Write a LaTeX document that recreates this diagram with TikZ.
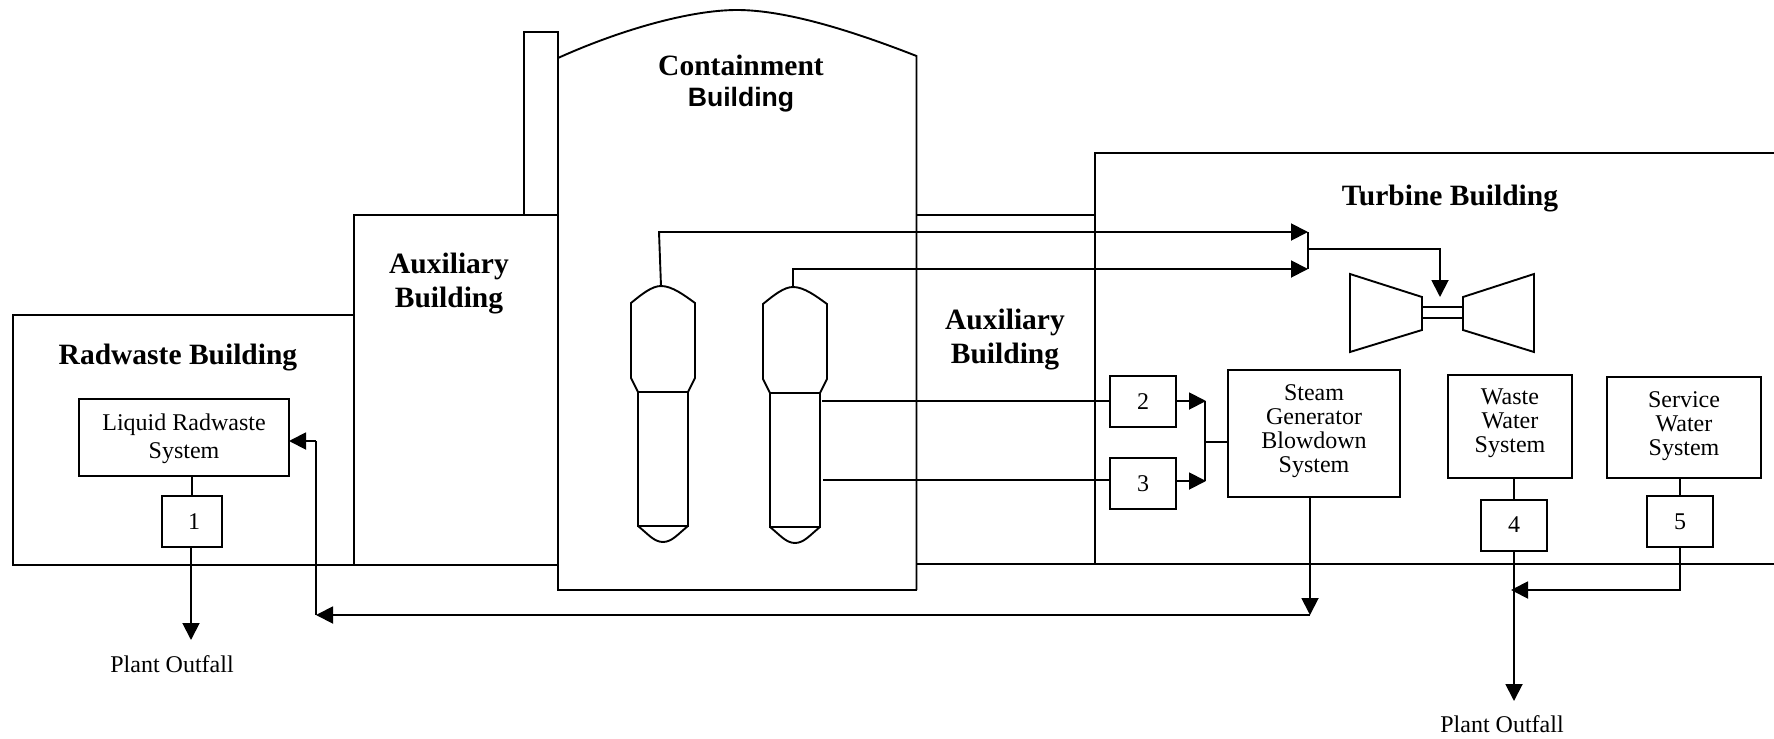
\documentclass[tikz,border=0pt]{standalone}
\usepackage{fontspec}
\setmainfont{Liberation Serif}
\newfontfamily\labelsans{Liberation Sans}
\usetikzlibrary{arrows.meta, positioning, calc}
\tikzset{
    wall/.style={line width=0.95pt, draw=black},
    pipe/.style={line width=0.95pt, draw=black},
    flow/.style={-{Triangle[length=8.5pt,width=8.5pt]}, line width=0.95pt, draw=black},
    sysbox/.style={
        rectangle, draw=black, line width=1pt, inner sep=0pt, outer sep=0pt,
        font=\fontsize{12}{12}\selectfont, align=center
    },
    numbox/.style={
        rectangle, draw=black, line width=1pt, inner sep=0pt, outer sep=0pt,
        minimum width=33pt, minimum height=25.5pt,
        font=\fontsize{12}{12}\selectfont
    },
    bldg/.style={font=\fontsize{14.75}{17}\selectfont\bfseries, align=center, inner sep=0pt},
    outfall/.style={font=\fontsize{12}{12}\selectfont, inner sep=0pt}
}

\begin{document}
\begin{tikzpicture}[x=0.5pt, y=-0.5pt]
    \useasboundingbox (0,0) rectangle (1774,739);

    % buildings
    \draw[wall] (354,315) -- (13,315) -- (13,565) -- (354,565);
    \draw[wall] (354,565) -- (354,215) -- (558,215) -- (558,565) -- cycle;
    \draw[wall] (524,215) -- (524,32) -- (558,32) -- (558,215);
    \draw[wall] (558,590) -- (558,58) .. controls (620,30) and (690,10) .. (737,10)
        .. controls (785,10) and (850,30) .. (916.5,56) -- (916.5,590);
    \draw[wall] (557,590) -- (916.5,590);
    \draw[wall] (916.5,215) -- (1095,215);
    \draw[wall] (916.5,564) -- (1774,564);
    \draw[wall] (1774,153) -- (1095,153) -- (1095,564);

    \node[bldg] (radlabel) at (178,358) {Radwaste Building};
    \node[bldg] (contlabel) at (741,65.5) {Containment};
    \node[font=\fontsize{13.3}{13.3}\selectfont\bfseries\labelsans, inner sep=0pt] (contlabelb) at (741,100) {Building};
    \node[bldg] (auxlabela) at (449,284) {Auxiliary\\Building};
    \node[bldg] (auxlabelb) at (1005,340) {Auxiliary\\Building};
    \node[bldg] (turblabel) at (1450,199) {Turbine Building};

    % steam generators
    \foreach \sgname/\sgx/\sgy in {sga/0/0, sgb/132/1} {
        \begin{scope}[shift={(\sgx,\sgy)}]
            \draw[wall] (638,392) -- (631,378) -- (631,303)
                .. controls (642,294) and (652,286) .. (661,286)
                .. controls (672,286) and (684,295) .. (695,303)
                -- (695,378) -- (688,392) -- cycle;
            \draw[wall] (638,392) -- (638,526) -- (688,526) -- (688,392);
            \draw[wall] (638,526) .. controls (648,534) and (654,542) .. (663,542)
                .. controls (672,542) and (678,534) .. (688,526);
            \coordinate (\sgname top) at (661,286);
        \end{scope}
    }

    % systems
    \node[sysbox, minimum width=105pt, minimum height=38.5pt] (liquid) at (184,437) {\rule{0pt}{10.5pt}Liquid Radwaste\\[2pt]System};
    \node[numbox, minimum width=30pt] (tank1) at (192,521.5) {\hspace{2pt}1};
    \node[numbox] (tank2) at (1143,401.5) {2};
    \node[numbox] (tank3) at (1143,483.5) {3};
    \node[sysbox, minimum width=86pt, minimum height=63.5pt] (blowdown) at (1314,433) {Steam\\Generator\\Blowdown\\System\\[-7.5pt]\mbox{}};
    \node[sysbox, minimum width=62pt, minimum height=51.5pt] (waste) at (1510,426.5) {Waste\\Water\\System\\[-6.3pt]\mbox{}};
    \node[sysbox, minimum width=77pt, minimum height=50.5pt] (service) at (1684,427.5) {Service\\Water\\System\\[-8pt]\mbox{}};
    \node[numbox] (tank4) at (1514,525) {4};
    \node[numbox] (tank5) at (1680,521.5) {5};
    \node[outfall] (outfalla) at (172,664) {Plant Outfall};
    \node[outfall] (outfallb) at (1502,724.5) {Plant Outfall};

    % turbine
    \draw[wall] (1350,274) -- (1422,297) -- (1422,330) -- (1350,352) -- cycle;
    \draw[wall] (1534,274) -- (1463,297) -- (1463,330) -- (1534,352) -- cycle;
    \draw[pipe] (1422,307) -- (1463,307);
    \draw[pipe] (1422,318) -- (1463,318);

    % main steam
    \coordinate (steama) at (1308,232);
    \coordinate (steamb) at (1308,269);
    \coordinate (steamj) at (1308,249);
    \coordinate (turbin) at (1440,297);
    \draw[flow] (sgatop) -- (659,232) -- (steama);
    \draw[flow] (sgbtop) -- (sgbtop |- steamb) -- (steamb);
    \draw[pipe] (steama) -- (steamb);
    \draw[flow] (steamj) -| (turbin);

    % blowdown
    \coordinate (sgouta) at (822,401);
    \coordinate (sgoutb) at (823,480);
    \coordinate (bara) at (1206,401);
    \coordinate (barb) at (1206,481);
    \draw[pipe] (sgouta) -- (tank2.west |- sgouta);
    \draw[pipe] (sgoutb) -- (tank3.west |- sgoutb);
    \draw[flow] (tank2.east |- bara) -- (bara);
    \draw[flow] (tank3.east |- barb) -- (barb);
    \draw[pipe] (1205,401) -- (1205,481);
    \draw[pipe] (1205,442) -- (blowdown.west |- 0,442);

    % return to radwaste
    \coordinate (retj) at (1310,615);
    \coordinate (retc) at (316,615);
    \coordinate (rett) at (316,441);
    \draw[flow] (blowdown.south -| retj) -- (retj);
    \draw[flow] (retj) -- (retc);
    \draw[pipe] (retc) -- (rett);
    \draw[flow] (rett) -- (liquid.east |- rett);

    % outfalls
    \coordinate (tipa) at (191,640);
    \coordinate (tipb) at (1514,701);
    \coordinate (mergej) at (1511,590);
    \draw[pipe] (tank1.north) -- (tank1.north |- liquid.south);
    \draw[flow] (tank1.south -| tipa) -- (tipa);
    \draw[pipe] (tank4.north) -- (tank4.north |- waste.south);
    \draw[pipe] (tank5.north) -- (tank5.north |- service.south);
    \draw[flow] (tank4.south) -- (tipb);
    \draw[flow] (tank5.south) |- (mergej);
\end{tikzpicture}
\end{document}
